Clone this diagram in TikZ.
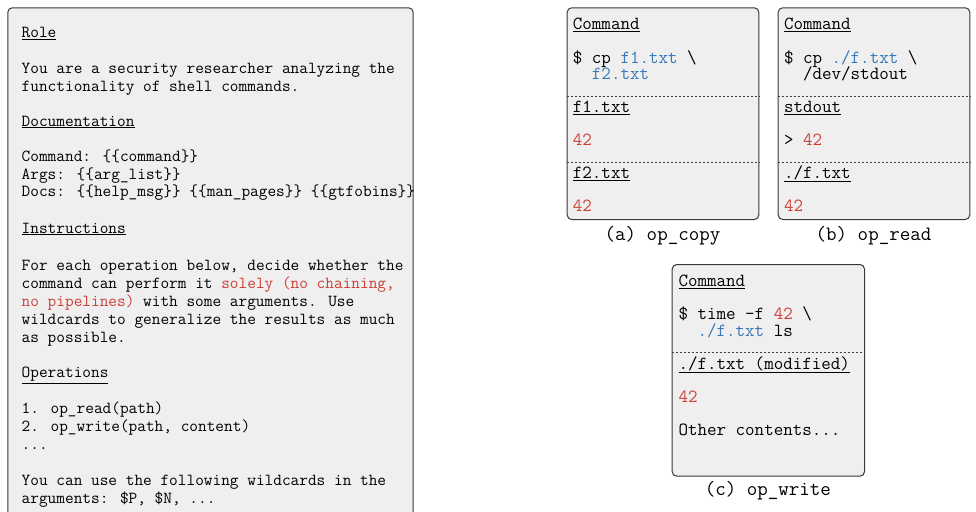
\documentclass[tikz,border=0pt]{standalone}
\usetikzlibrary{calc}
\definecolor{hlred}{RGB}{205,62,55}
\definecolor{hlblue}{RGB}{55,120,185}
\definecolor{boxfill}{RGB}{239,239,239}
\newcommand{\lfont}{\ttfamily\fontsize{16.85}{18}\selectfont}
\newcommand{\rfont}{\ttfamily\fontsize{18.5}{18}\selectfont}
\newcommand{\cfont}{\ttfamily\fontsize{20.4}{20}\selectfont}
\newcommand{\redtxt}[1]{\textcolor{hlred}{#1}}
\newcommand{\bluetxt}[1]{\textcolor{hlblue}{#1}}
\tikzset{
  panel/.style={draw=black!78, line width=1pt, fill=boxfill, rounded corners=4.5pt, inner sep=0pt, anchor=north west},
  ltxt/.style={inner sep=0pt, anchor=base west, font=\lfont},
  rtxt/.style={inner sep=0pt, anchor=base west, font=\rfont, text height=0.62em, text depth=0.2em},
  captxt/.style={inner sep=0pt, anchor=base, font=\cfont},
  sepline/.style={draw=black!75, line width=0.8pt, dash pattern=on 2.4pt off 1.6pt}
}
\begin{document}
\begin{tikzpicture}[x=1pt,y=-1pt]
\useasboundingbox (0,0) rectangle (976,511);
\clip (0,0) rectangle (976,511);
% left prompt box
\node[panel, minimum width=405.4pt, minimum height=530pt] (prompt) at (7.3,7.3) {};
\node[ltxt] (l1) at (21.5,37.3) {\underline{Role}};
\node[ltxt] (l2) at (21.5,73) {You are a security researcher analyzing the};
\node[ltxt] (l3) at (21.5,91) {functionality of shell commands.};
\node[ltxt] (l4) at (21.5,126) {\underline{Documentation}};
\node[ltxt] (l5) at (21.5,161.7) {Command: \{\{command\}\}};
\node[ltxt] (l6) at (21.5,179.3) {Args: \{\{arg\_list\}\}};
\node[ltxt] (l7) at (21.5,196.8) {Docs: \{\{help\_msg\}\} \{\{man\_pages\}\} \{\{gtfobins\}\}};
\node[ltxt] (l8) at (21.5,233) {\underline{Instructions}};
\node[ltxt] (l9) at (21.5,270) {For each operation below, decide whether the};
\node[ltxt] (l10) at (21.5,288) {command can perform it \redtxt{solely (no chaining,}};
\node[ltxt] (l11) at (21.5,306) {\redtxt{no pipelines)} with some arguments. Use};
\node[ltxt] (l12) at (21.5,324) {wildcards to generalize the results as much};
\node[ltxt] (l13) at (21.5,342) {as possible.};
\node[ltxt] (l14) at (21.5,377.7) {\underline{Operations}};
\node[ltxt] (l15) at (21.5,413.3) {1. op\_read(path)};
\node[ltxt] (l16) at (21.5,431.5) {2. op\_write(path, content)};
\node[ltxt] (l17) at (21.5,449) {...};
\node[ltxt] (l18) at (21.5,485) {You can use the following wildcards in the};
\node[ltxt] (l19) at (21.5,503) {arguments: \$P, \$N, ...};
% box (a)
\node[panel, minimum width=191.6pt, minimum height=211.7pt] (boxA) at (566.7,7.3) {};
\node[rtxt] (a1) at (572.7,30) {\underline{Command}};
\node[rtxt] (a2) at (572.7,63.3) {\$ cp \bluetxt{f1.txt} \textbackslash};
\node[rtxt] (a3) at (572.7,79) {\ \ \bluetxt{f2.txt}};
\node[rtxt] (a4) at (572.7,112.3) {\underline{f1.txt}};
\node[rtxt] (a5) at (572.7,145.7) {\redtxt{42}};
\node[rtxt] (a6) at (572.7,178.3) {\underline{f2.txt}};
\node[rtxt] (a7) at (572.7,211.7) {\redtxt{42}};
\draw[sepline] (boxA.west |- 0,96) -- (boxA.east |- 0,96);
\draw[sepline] (boxA.west |- 0,162.3) -- (boxA.east |- 0,162.3);
\node[captxt] (capA) at (662.5,240) {(a) op\_copy};
% box (b)
\node[panel, minimum width=191.6pt, minimum height=211.7pt] (boxB) at (777.7,7.3) {};
\node[rtxt] (b1) at (783.8,30) {\underline{Command}};
\node[rtxt] (b2) at (783.8,63.3) {\$ cp \bluetxt{./f.txt} \textbackslash};
\node[rtxt] (b3) at (783.8,79) {\ \ /dev/stdout};
\node[rtxt] (b4) at (783.8,112.3) {\underline{stdout}};
\node[rtxt] (b5) at (783.8,145.7) {> \redtxt{42}};
\node[rtxt] (b6) at (783.8,178.3) {\underline{./f.txt}};
\node[rtxt] (b7) at (783.8,211.7) {\redtxt{42}};
\draw[sepline] (boxB.west |- 0,96) -- (boxB.east |- 0,96);
\draw[sepline] (boxB.west |- 0,162.3) -- (boxB.east |- 0,162.3);
\node[captxt] (capB) at (873.5,240) {(b) op\_read};
% box (c)
\node[panel, minimum width=192.3pt, minimum height=211.7pt] (boxC) at (671.7,264) {};
\node[rtxt] (c1) at (678.3,286.7) {\underline{Command}};
\node[rtxt] (c2) at (678.3,319.3) {\$ time -f \redtxt{42} \textbackslash};
\node[rtxt] (c3) at (678.3,336) {\ \ \bluetxt{./f.txt} ls};
\node[rtxt] (c4) at (678.3,369) {\underline{./f.txt (modified)}};
\node[rtxt] (c5) at (678.3,402.3) {\redtxt{42}};
\node[rtxt] (c6) at (678.3,435) {Other contents...};
\draw[sepline] (boxC.west |- 0,352.3) -- (boxC.east |- 0,352.3);
\node[captxt] (capC) at (767.8,495.7) {(c) op\_write};
\end{tikzpicture}
\end{document}
